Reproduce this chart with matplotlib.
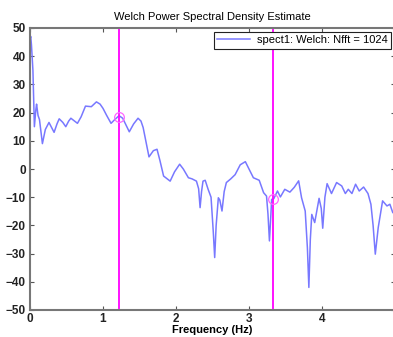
import numpy as np
import matplotlib
matplotlib.use("Agg")
import matplotlib.pyplot as plt

# valores
freq = [0.00, 0.01, 0.02, 0.04, 0.06, 0.08, 0.09, 0.11, 0.13, 0.17, 0.21, 0.26,
        0.30, 0.33, 0.37, 0.40, 0.45, 0.49, 0.53, 0.56, 0.61, 0.65, 0.70, 0.76,
        0.84, 0.91, 0.96, 1.00, 1.05, 1.11, 1.16, 1.22, 1.27, 1.36, 1.42, 1.48,
        1.52, 1.55, 1.63, 1.69, 1.74, 1.78, 1.83, 1.92, 1.98, 2.05, 2.10, 2.17,
        2.22, 2.28, 2.31, 2.33, 2.35, 2.37, 2.40, 2.44, 2.48, 2.51, 2.53, 2.55,
        2.58, 2.60, 2.63, 2.66, 2.69, 2.75, 2.81, 2.88, 2.95, 3.00, 3.06, 3.14,
        3.20, 3.24, 3.26, 3.28, 3.30, 3.31, 3.34, 3.39, 3.43, 3.49, 3.56, 3.62,
        3.68, 3.72, 3.77, 3.80, 3.82, 3.84, 3.86, 3.90, 3.96, 3.99, 4.01, 4.04,
        4.07, 4.13, 4.20, 4.27, 4.32, 4.36, 4.41, 4.46, 4.51, 4.57, 4.63, 4.67,
        4.70, 4.73, 4.77, 4.83, 4.89, 4.93, 4.97, 5.00]
psd = [46, 47, 44, 35, 15, 21, 23, 19, 17.5, 9, 14, 16.5,
       14.5, 13, 16, 17.8, 16.5, 15, 17, 18, 17, 16.2, 18.5, 22.3,
       22.1, 23.8, 23, 21.5, 19, 16.2, 17.5, 18.9, 18, 13.2, 16, 18,
       17, 14.7, 4.3, 6.5, 7, 3, -2.5, -4.3, -1, 1.7, 0, -3.1,
       -3.5, -4.3, -7, -13.7, -8, -4.3, -4, -7.2, -10, -22, -31.4, -20,
       -10.2, -11, -14.9, -8, -4.8, -3.5, -2, 1.5, 2.6, 0, -3.1, -4,
       -8.4, -9.6, -16, -25.5, -16, -10.8, -10.5, -7.8, -9.9, -7.2, -8.2, -6.5,
       -4.2, -10.2, -14.9, -28, -42, -25, -16.1, -19, -10.4, -14, -21, -10,
       -5.2, -8.7, -4.8, -6, -8.7, -7.2, -8.7, -5.4, -7.8, -6.4, -8.7, -12.5,
       -20, -30.2, -20.8, -11.3, -13.1, -12.5, -15.5, -14]
cursores_x = [1.22, 3.33]
cursores_y = [18.5, -10.5]

plt.rcParams['font.family'] = ['Liberation Sans', 'DejaVu Sans']

fig = plt.figure(figsize=(3.93, 3.37), dpi=100)
ax = fig.add_axes([30/393, 27/337, 365/393, 282/337])

ax.plot(freq, psd, color='#7878ff', lw=1.1, label='spect1: Welch: Nfft = 1024')
for cx in cursores_x:
    ax.axvline(cx, color='#ff00ff', lw=1.3)
ax.plot(cursores_x, cursores_y, 'o', mfc='none', mec='#ff66ff', ms=7, mew=0.9)

ax.set_xlim(0, 5)
ax.set_ylim(-50, 50)
ax.set_xticks(np.arange(0, 5, 1))
ax.set_yticks(np.arange(-50, 51, 10))
ax.tick_params(direction='in', top=True, right=True, length=3, width=0.8,
               colors='#555555', labelcolor='#222222', labelsize=8.5, pad=3)
ax.tick_params(axis='x', pad=2)
for lab in ax.get_xticklabels() + ax.get_yticklabels():
    lab.set_fontweight('bold')
for s in ax.spines.values():
    s.set_color('#777777')
    s.set_linewidth(1.5)

ax.set_title('Welch Power Spectral Density Estimate', fontsize=8, pad=6)
ax.set_xlabel('Frequency (Hz)', fontsize=8, fontweight='bold', labelpad=0)

leg = ax.legend(loc='upper right', fontsize=8, fancybox=False, framealpha=1,
                borderaxespad=0.35, handlelength=3.0, borderpad=0.3,
                handletextpad=0.6)
leg.get_frame().set_edgecolor('#222222')
leg.get_frame().set_linewidth(0.8)

fig.savefig('out.png', dpi=100)
